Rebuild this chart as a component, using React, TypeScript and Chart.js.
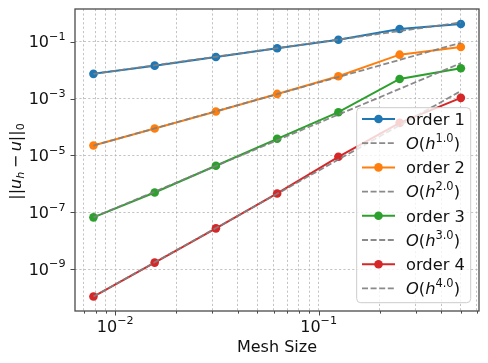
import React, { useEffect, useRef } from "react";
import { Chart, registerables } from "chart.js";

Chart.register(...registerables);

// ---------------- data ----------------
const meshSizes = [0.0078125, 0.015625, 0.03125, 0.0625, 0.125, 0.25, 0.5];

const order1 = [7.4e-3, 1.44e-2, 2.9e-2, 5.9e-2, 1.17e-1, 2.8e-1, 4.2e-1];
const ref1 = [7.4e-3, 1.48e-2, 2.96e-2, 5.92e-2, 1.184e-1, 2.368e-1, 4.736e-1];
const order2 = [2.24e-5, 8.9e-5, 3.5e-4, 1.46e-3, 6.1e-3, 3.5e-2, 6.5e-2];
const ref2 = [2.24e-5, 8.96e-5, 3.584e-4, 1.434e-3, 5.734e-3, 2.294e-2, 9.175e-2];
const order3 = [6.7e-8, 5.0e-7, 4.35e-6, 3.86e-5, 3.33e-4, 4.9e-3, 1.17e-2];
const ref3 = [6.7e-8, 5.36e-7, 4.288e-6, 3.43e-5, 2.744e-4, 2.195e-3, 1.756e-2];
const order4 = [1.1e-10, 1.72e-9, 2.75e-8, 4.64e-7, 9.0e-6, 1.4e-4, 1.06e-3];
const ref4 = [1.1e-10, 1.76e-9, 2.816e-8, 4.506e-7, 7.209e-6, 1.153e-4, 1.846e-3];

const seriesLabels = ["order 1", "order 2", "order 3", "order 4"];
const refExponents = ["1.0", "2.0", "3.0", "4.0"];

const xMajorTicks = [0.01, 0.1];
const xMajorTickExps = ["\u22122", "\u22121"];
const xMinorTicks = [
  0.007, 0.008, 0.009, 0.02, 0.03, 0.04, 0.05, 0.06, 0.07, 0.08, 0.09, 0.2, 0.3,
  0.4, 0.5, 0.6,
];
const yMajorTicks = [1e-9, 1e-7, 1e-5, 1e-3, 1e-1];
const yMajorTickExps = ["\u22129", "\u22127", "\u22125", "\u22123", "\u22121"];

const X_MIN = 0.00634;
const X_MAX = 0.614;
const Y_MIN = 3.42e-11;
const Y_MAX = 1.41;

// ---------------- styles ----------------
const COLORS = ["#1f77b4", "#ff7f0e", "#2ca02c", "#d62728"];
const REF_COLOR = "rgba(128,128,128,0.92)";
const SPINE = "#4a4a4a";
const TEXT = "#111111";
const FONT = "'DejaVu Sans', sans-serif";
const GRID = "rgba(176,176,176,0.75)";
const REF_DASH = [6, 2.6];

type Run = { t: string; it?: boolean; s?: number; dy?: number; dx?: number };

function setFont(ctx: CanvasRenderingContext2D, fs: number, r: Run) {
  const size = fs * (r.s ?? 1);
  ctx.font = `${r.it ? "italic " : ""}${size}px ${FONT}`;
}

function runsWidth(ctx: CanvasRenderingContext2D, runs: Run[], fs: number) {
  let w = 0;
  for (const r of runs) {
    setFont(ctx, fs, r);
    w += (r.dx ?? 0) * fs + ctx.measureText(r.t).width;
  }
  return w;
}

function drawRuns(
  ctx: CanvasRenderingContext2D,
  runs: Run[],
  x: number,
  y: number,
  fs: number,
  align: "left" | "center" | "right"
) {
  const w = runsWidth(ctx, runs, fs);
  let cx = align === "left" ? x : align === "center" ? x - w / 2 : x - w;
  ctx.textAlign = "left";
  ctx.textBaseline = "alphabetic";
  for (const r of runs) {
    setFont(ctx, fs, r);
    cx += (r.dx ?? 0) * fs;
    ctx.fillText(r.t, cx, y + (r.dy ?? 0) * fs);
    cx += ctx.measureText(r.t).width;
  }
}

const powRuns = (exp: string): Run[] => [
  { t: "10" },
  { t: exp, s: 0.7, dy: -0.46 },
];

const decorPlugin = {
  id: "mplDecor",
  afterDatasetsDraw(chart: any) {
    const { ctx, chartArea: a, scales } = chart;
    const xs = scales.x;
    const ys = scales.y;
    ctx.save();

    // spines
    ctx.strokeStyle = SPINE;
    ctx.lineWidth = 1.3;
    ctx.setLineDash([]);
    ctx.strokeRect(a.left, a.top, a.right - a.left, a.bottom - a.top);

    // tick marks
    ctx.lineWidth = 1;
    ctx.beginPath();
    for (const v of xMajorTicks) {
      const px = Math.round(xs.getPixelForValue(v)) + 0.5;
      ctx.moveTo(px, a.bottom);
      ctx.lineTo(px, a.bottom + 4.5);
    }
    for (const v of xMinorTicks) {
      const px = Math.round(xs.getPixelForValue(v)) + 0.5;
      ctx.moveTo(px, a.bottom);
      ctx.lineTo(px, a.bottom + 2.6);
    }
    for (const v of yMajorTicks) {
      const py = Math.round(ys.getPixelForValue(v)) + 0.5;
      ctx.moveTo(a.left - 4.5, py);
      ctx.lineTo(a.left, py);
    }
    ctx.stroke();

    // tick labels
    ctx.fillStyle = TEXT;
    const tfs = 16;
    xMajorTicks.forEach((v, i) => {
      const px = xs.getPixelForValue(v);
      drawRuns(ctx, powRuns(xMajorTickExps[i]), px, a.bottom + 20.7, tfs, "center");
    });
    yMajorTicks.forEach((v, i) => {
      const py = ys.getPixelForValue(v);
      drawRuns(ctx, powRuns(yMajorTickExps[i]), a.left - 9.5, py + 5.5, tfs, "right");
    });

    // axis titles
    const afs = 16;
    drawRuns(ctx, [{ t: "Mesh Size" }], (a.left + a.right) / 2, a.bottom + 40.7, afs, "center");
    ctx.save();
    ctx.translate(20.5, (a.top + a.bottom) / 2 + 1.5);
    ctx.rotate(-Math.PI / 2);
    drawRuns(
      ctx,
      [
        { t: "||" },
        { t: "u", it: true },
        { t: "h", it: true, s: 0.7, dy: 0.22 },
        { t: "\u2212", dx: 0.22 },
        { t: "u", it: true, dx: 0.22 },
        { t: "||" },
        { t: "0", s: 0.7, dy: 0.22 },
      ],
      0,
      0,
      afs,
      "center"
    );
    ctx.restore();

    // legend
    const lfs = 16.3;
    const lw = 114;
    const lh = 195;
    const lx = a.right - 8.3 - lw;
    const ly = a.bottom - 8.3 - lh;
    ctx.beginPath();
    if ((ctx as any).roundRect) (ctx as any).roundRect(lx, ly, lw, lh, 4);
    else ctx.rect(lx, ly, lw, lh);
    ctx.fillStyle = "rgba(255,255,255,0.8)";
    ctx.fill();
    ctx.strokeStyle = "#cccccc";
    ctx.lineWidth = 1;
    ctx.stroke();

    const rowStart = ly + 11.3;
    const rowGap = 24.2;
    const hx0 = lx + 5.3;
    const hx1 = hx0 + 33;
    const tx = hx1 + 11;
    for (let k = 0; k < 8; k++) {
      const ry = rowStart + k * rowGap;
      const si = Math.floor(k / 2);
      const isRef = k % 2 === 1;
      ctx.beginPath();
      ctx.moveTo(hx0, ry);
      ctx.lineTo(hx1, ry);
      if (isRef) {
        ctx.strokeStyle = REF_COLOR;
        ctx.lineWidth = 1.8;
        ctx.setLineDash(REF_DASH);
        ctx.stroke();
        ctx.setLineDash([]);
      } else {
        ctx.strokeStyle = COLORS[si];
        ctx.lineWidth = 2;
        ctx.setLineDash([]);
        ctx.stroke();
        ctx.beginPath();
        ctx.arc((hx0 + hx1) / 2, ry, 4.3, 0, Math.PI * 2);
        ctx.fillStyle = COLORS[si];
        ctx.fill();
      }
      ctx.fillStyle = TEXT;
      if (isRef) {
        drawRuns(
          ctx,
          [
            { t: "O", it: true },
            { t: "(" },
            { t: "h", it: true },
            { t: refExponents[si], s: 0.7, dy: -0.42 },
            { t: ")" },
          ],
          tx,
          ry + 5.7,
          lfs,
          "left"
        );
      } else {
        drawRuns(ctx, [{ t: seriesLabels[si] }], tx, ry + 5.7, lfs, "left");
      }
    }

    ctx.restore();
  },
};

export default function App() {
  const canvasRef = useRef<HTMLCanvasElement | null>(null);

  useEffect(() => {
    const canvas = canvasRef.current;
    if (!canvas) return;
    const seriesData = [order1, order2, order3, order4];
    const refData = [ref1, ref2, ref3, ref4];
    const datasets: any[] = [];
    seriesData.forEach((vals, i) => {
      datasets.push({
        label: seriesLabels[i],
        data: meshSizes.map((x, j) => ({ x, y: vals[j] })),
        borderColor: COLORS[i],
        backgroundColor: COLORS[i],
        pointBackgroundColor: COLORS[i],
        pointBorderColor: COLORS[i],
        borderWidth: 2,
        pointRadius: 4.3,
        pointBorderWidth: 0,
        tension: 0,
        fill: false,
        order: 100 - 2 * i,
      });
      datasets.push({
        label: `O(h^${refExponents[i]})`,
        data: meshSizes.map((x, j) => ({ x, y: refData[i][j] })),
        borderColor: REF_COLOR,
        backgroundColor: REF_COLOR,
        borderWidth: 1.8,
        borderDash: REF_DASH,
        pointRadius: 0,
        tension: 0,
        fill: false,
        order: 99 - 2 * i,
      });
    });

    const chart = new Chart(canvas, {
      type: "line",
      data: { datasets },
      options: {
        animation: false,
        responsive: false,
        devicePixelRatio: 1,
        layout: { padding: { top: 9, right: 9, left: 0, bottom: 0 } },
        plugins: {
          legend: { display: false },
          tooltip: { enabled: false },
          title: { display: false },
        },
        scales: {
          x: {
            type: "logarithmic",
            min: X_MIN,
            max: X_MAX,
            bounds: "data",
            afterFit: (s: any) => {
              s.height = 52;
            },
            afterBuildTicks: (s: any) => {
              s.ticks = [...xMinorTicks, ...xMajorTicks]
                .sort((p, q) => p - q)
                .map((v) => ({ value: v }));
            },
            ticks: { display: false },
            grid: { color: GRID, lineWidth: 1, drawTicks: false },
            border: { display: false, dash: [2.2, 2.2] },
          },
          y: {
            type: "logarithmic",
            min: Y_MIN,
            max: Y_MAX,
            bounds: "data",
            afterFit: (s: any) => {
              s.width = 75;
            },
            afterBuildTicks: (s: any) => {
              s.ticks = yMajorTicks.map((v) => ({ value: v }));
            },
            ticks: { display: false },
            grid: { color: GRID, lineWidth: 1, drawTicks: false },
            border: { display: false, dash: [2.2, 2.2] },
          },
        },
      } as any,
      plugins: [decorPlugin as any],
    });
    return () => chart.destroy();
  }, []);

  return (
    <div
      style={{
        position: "fixed",
        left: 0,
        top: 0,
        width: 488,
        height: 363,
        background: "#ffffff",
      }}
    >
      <canvas
        ref={canvasRef}
        width={488}
        height={363}
        style={{ width: 488, height: 363, display: "block" }}
      />
    </div>
  );
}
